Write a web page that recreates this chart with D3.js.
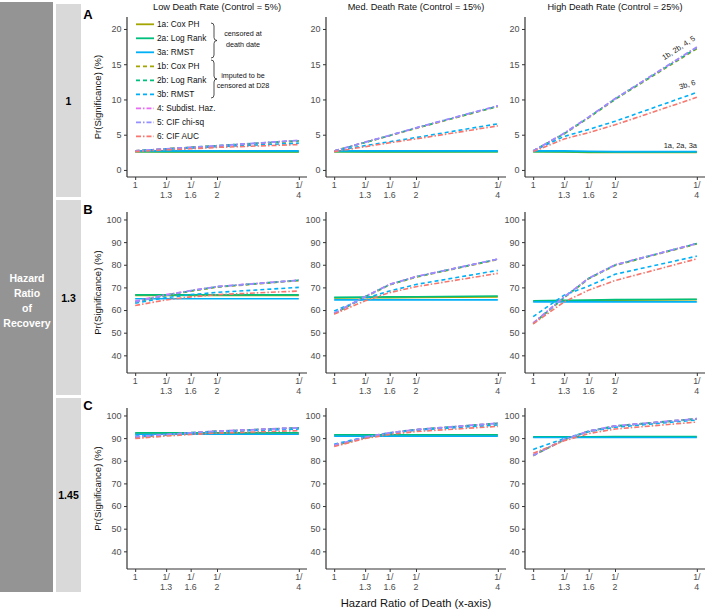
<!DOCTYPE html>
<html><head><meta charset="utf-8">
<script src="https://cdn.jsdelivr.net/npm/d3@7"></script>
<style>body{margin:0;background:#fff} svg{display:block} text{font-family:"Liberation Sans",Arial,sans-serif}</style>
</head><body><svg id="c" width="708" height="611"></svg>
<script>
// ---------- data ----------
const xValues = [1, 1.3, 1.6, 2, 4];
const xTickLabels = [["1"], ["1/", "1.3"], ["1/", "1.6"], ["1/", "2"], ["1/", "4"]];
const seriesKeys = ["1a", "2a", "3a", "1b", "2b", "3b", "4", "5", "6"];
const seriesLabels = ["1a: Cox PH", "2a: Log Rank", "3a: RMST", "1b: Cox PH", "2b: Log Rank", "3b: RMST", "4: Subdist. Haz.", "5: CIF chi-sq", "6: CIF AUC"];
const seriesColors = ["#A3A500", "#00BF7D", "#00B0F6", "#A3A500", "#00BF7D", "#00B0F6", "#E76BF3", "#9590FF", "#F8766D"];
const seriesDash = ["", "", "", "4,3", "4,3", "4,3", "5,2,1.5,2", "5,2,1.5,2", "5,2,1.5,2"];
const columnTitles = ["Low Death Rate (Control = 5%)", "Med. Death Rate (Control = 15%)", "High Death Rate (Control = 25%)"];
const rowLabels = ["1", "1.3", "1.45"];
const panelTags = ["A", "B", "C"];
const yTicksA = [0, 5, 10, 15, 20];
const yTicksBC = [40, 50, 60, 70, 80, 90, 100];

// values per panel, rows in seriesKeys order, columns in xValues order
const pA1 = [[2.6,2.55,2.55,2.55,2.55],[2.6,2.6,2.6,2.6,2.6],[2.7,2.7,2.7,2.7,2.7],
  [2.7,3.0,3.2,3.4,4.1],[2.7,3.0,3.2,3.45,4.15],[2.7,2.95,3.1,3.3,3.8],
  [2.7,3.0,3.2,3.4,4.2],[2.7,3.0,3.2,3.45,4.2],[2.6,2.85,3.0,3.2,3.6]];
const pA2 = [[2.6,2.55,2.55,2.55,2.6],[2.6,2.6,2.6,2.6,2.6],[2.7,2.7,2.7,2.7,2.7],
  [2.7,3.9,4.85,5.9,9.0],[2.7,3.9,4.9,5.95,9.05],[2.7,3.45,4.0,4.6,6.55],
  [2.7,3.95,4.9,5.95,9.1],[2.7,3.95,4.9,6.0,9.1],[2.6,3.3,3.85,4.4,6.25]];
const pA3 = [[2.6,2.55,2.5,2.5,2.5],[2.6,2.6,2.55,2.55,2.55],[2.7,2.7,2.65,2.6,2.6],
  [2.7,5.1,7.4,10.0,17.2],[2.7,5.15,7.45,10.05,17.3],[2.7,4.75,5.75,6.9,11.0],
  [2.7,5.2,7.5,10.1,17.4],[2.7,5.2,7.5,10.1,17.45],[2.6,4.4,5.3,6.4,10.3]];
const pB1 = [[66.5,66.5,66.5,66.5,66.5],[66.7,66.7,66.7,66.7,66.7],[65.0,65.0,65.0,65.0,65.0],
  [63.5,66.4,68.3,70.1,73.0],[63.7,66.6,68.5,70.3,73.2],[63.0,65.5,66.8,67.8,70.0],
  [64.0,66.8,68.6,70.4,73.2],[63.6,66.5,68.5,70.3,73.1],[62.0,64.5,65.8,66.8,68.4]];
const pB2 = [[65.3,65.4,65.5,65.6,65.8],[65.6,65.7,65.8,65.9,66.2],[64.5,64.5,64.5,64.5,64.5],
  [58.3,65.7,71.1,74.5,82.3],[58.5,65.9,71.3,74.7,82.5],[59.6,65.2,68.4,71.3,77.5],
  [58.6,66.0,71.4,74.8,82.5],[58.5,65.9,71.3,74.7,82.5],[58.2,64.1,67.7,70.3,76.2]];
const pB3 = [[63.9,64.0,64.2,64.4,64.6],[64.1,64.3,64.4,64.6,64.8],[63.6,63.6,63.6,63.6,63.6],
  [53.9,65.4,73.8,79.7,89.2],[54.1,65.6,74.0,79.9,89.4],[57.1,66.6,70.6,75.8,83.8],
  [54.3,65.8,74.1,80.0,89.4],[54.1,65.6,74.0,79.9,89.4],[53.9,63.6,68.8,73.0,82.6]];
const pC1 = [[92.0,92.0,92.0,92.0,92.0],[92.4,92.4,92.4,92.4,92.4],[91.7,91.7,91.7,91.7,91.7],
  [90.4,91.4,92.2,92.9,94.4],[90.6,91.6,92.4,93.1,94.6],[90.9,91.6,92.2,92.8,94.0],
  [90.6,91.6,92.4,93.1,94.6],[90.5,91.5,92.3,93.0,94.5],[89.8,90.9,91.6,92.2,93.3]];
const pC2 = [[91.2,91.2,91.2,91.2,91.2],[91.5,91.5,91.5,91.5,91.5],[90.9,90.9,90.9,90.9,90.9],
  [86.7,90.2,92.2,93.6,96.4],[86.9,90.4,92.4,93.8,96.6],[87.3,90.5,92.2,93.5,95.8],
  [86.9,90.4,92.4,93.8,96.6],[86.8,90.3,92.3,93.7,96.5],[86.3,89.8,91.6,92.9,95.2]];
const pC3 = [[90.4,90.4,90.5,90.5,90.5],[90.6,90.6,90.6,90.7,90.7],[90.3,90.3,90.3,90.3,90.3],
  [82.2,89.2,92.9,95.2,98.4],[82.4,89.4,93.1,95.4,98.6],[85.0,89.8,92.8,94.8,98.0],
  [82.4,89.4,93.1,95.4,98.6],[82.3,89.3,93.0,95.3,98.5],[83.3,88.8,92.0,94.0,97.1]];
const panelData = [[pA1, pA2, pA3], [pB1, pB2, pB3], [pC1, pC2, pC3]];

// ---------- layout ----------
const svg = d3.select("#c");
const colX = [127, 326, 525], panelW = 180;
const rowY = [[17, 177], [212, 373], [408, 569]];
const yDomains = [[-1, 21.7], [32.2, 103.3], [32.2, 103.3]];
const yTicks = [yTicksA, yTicksBC, yTicksBC];
const axisCol = "#333333", tickTextCol = "#4D4D4D";

// strips
svg.append("rect").attr("x", 0).attr("y", 2).attr("width", 53).attr("height", 590).attr("fill", "#949494");
const stripSeg = [[4, 197], [200, 395], [398, 592]];
stripSeg.forEach((s, i) => {
  svg.append("rect").attr("x", 56).attr("y", s[0]).attr("width", 25).attr("height", s[1] - s[0]).attr("fill", "#D9D9D9");
  svg.append("text").attr("x", 68.5).attr("y", (s[0] + s[1]) / 2 + 4).attr("text-anchor", "middle")
    .attr("font-size", 10.5).attr("font-weight", "bold").text(rowLabels[i]);
});
["Hazard", "Ratio", "of", "Recovery"].forEach((w, i) => {
  svg.append("text").attr("x", 27).attr("y", 282 + i * 15).attr("text-anchor", "middle")
    .attr("font-size", 10.5).attr("font-weight", "bold").attr("fill", "#fff").text(w);
});

// column titles
columnTitles.forEach((t, j) => {
  svg.append("text").attr("x", colX[j] + panelW / 2).attr("y", 10).attr("text-anchor", "middle")
    .attr("font-size", 9.2).attr("fill", "#111").text(t);
});

const lineGen = (xs, ys) => d3.line().x((d, i) => xs(xValues[i])).y(d => ys(d));

for (let r = 0; r < 3; r++) {
  const [top, bot] = rowY[r];
  svg.append("text").attr("x", 88).attr("y", top + 1.5).attr("text-anchor", "middle")
    .attr("font-size", 13).attr("font-weight", "bold").text(panelTags[r]);
  svg.append("text").attr("transform", `translate(101,${(top + bot) / 2}) rotate(-90)`).attr("text-anchor", "middle")
    .attr("font-size", 9.5).attr("fill", "#111").text("Pr(Significance) (%)");
  for (let c = 0; c < 3; c++) {
    const x0 = colX[c];
    const xs = d3.scaleLog().domain([Math.exp(-0.0693), 4 * Math.exp(0.0693)]).range([x0, x0 + panelW]);
    const ys = d3.scaleLinear().domain(yDomains[r]).range([bot, top]);
    const g = svg.append("g");
    const ya = g.append("g").attr("transform", `translate(${x0},0)`)
      .call(d3.axisLeft(ys).tickValues(yTicks[r]).tickSize(3).tickPadding(2.5));
    const xa = g.append("g").attr("transform", `translate(0,${bot})`)
      .call(d3.axisBottom(xs).tickValues(xValues).tickSize(3).tickFormat(() => ""));
    [ya, xa].forEach(a => {
      a.select(".domain").attr("stroke", axisCol).attr("stroke-width", 1.2);
      a.selectAll(".tick line").attr("stroke", axisCol).attr("stroke-width", 1);
    });
    ya.selectAll(".tick text").attr("font-size", 9).attr("fill", tickTextCol).attr("font-family", "Liberation Sans, Arial, sans-serif");
    ya.select(".domain").attr("d", `M0,${top}V${bot}`);
    xa.select(".domain").attr("d", `M${x0},0H${x0 + panelW}`);
    xValues.forEach((v, i) => {
      xTickLabels[i].forEach((ln, k) => {
        g.append("text").attr("x", xs(v)).attr("y", bot + 11 + k * 10).attr("text-anchor", "middle")
          .attr("font-size", 8.8).attr("fill", tickTextCol).text(ln);
      });
    });
    const data = panelData[r][c];
    data.forEach((vals, s) => {
      g.append("path").attr("d", lineGen(xs, ys)(vals)).attr("fill", "none")
        .attr("stroke", seriesColors[s]).attr("stroke-width", 1.6)
        .attr("stroke-dasharray", seriesDash[s] || null);
    });
  }
}

// legend in panel A1
const legX = 136, legY0 = 24.3, legStep = 14;
seriesKeys.forEach((k, i) => {
  const y = legY0 + i * legStep;
  svg.append("line").attr("x1", legX).attr("x2", legX + 18).attr("y1", y).attr("y2", y)
    .attr("stroke", seriesColors[i]).attr("stroke-width", 1.8).attr("stroke-dasharray", seriesDash[i] || null);
  svg.append("text").attr("x", legX + 21).attr("y", y + 3).attr("font-size", 8.3).attr("fill", "#111").text(seriesLabels[i]);
});
function brace(x, y1, y2) {
  const ym = (y1 + y2) / 2, d = 3;
  return `M${x},${y1} Q${x + d},${y1} ${x + d},${y1 + d} L${x + d},${ym - d} Q${x + d},${ym} ${x + 2 * d},${ym} Q${x + d},${ym} ${x + d},${ym + d} L${x + d},${y2 - d} Q${x + d},${y2} ${x},${y2}`;
}
svg.append("path").attr("d", brace(211, 23, 58)).attr("fill", "none").attr("stroke", "#222").attr("stroke-width", 0.8);
svg.append("path").attr("d", brace(211, 60, 98)).attr("fill", "none").attr("stroke", "#222").attr("stroke-width", 0.8);
[["censored at", 35.5], ["death date", 46.5], ["imputed to be", 77.5], ["censored at D28", 87.5]].forEach(([t, y]) => {
  svg.append("text").attr("x", 243).attr("y", y).attr("text-anchor", "middle").attr("font-size", 7.2).attr("fill", "#111").text(t);
});

// annotations in panel A3
svg.append("text").attr("transform", "translate(680,50) rotate(-33)").attr("text-anchor", "middle")
  .attr("font-size", 7.5).attr("fill", "#222").text("1b, 2b, 4, 5");
svg.append("text").attr("transform", "translate(688,87) rotate(-18)").attr("text-anchor", "middle")
  .attr("font-size", 7.5).attr("fill", "#222").text("3b, 6");
svg.append("text").attr("x", 697).attr("y", 148).attr("text-anchor", "end")
  .attr("font-size", 7.5).attr("fill", "#222").text("1a, 2a, 3a");

svg.append("text").attr("x", 416).attr("y", 607).attr("text-anchor", "middle").attr("font-size", 11.2).attr("fill", "#111")
  .text("Hazard Ratio of Death (x-axis)");
</script></body></html>
